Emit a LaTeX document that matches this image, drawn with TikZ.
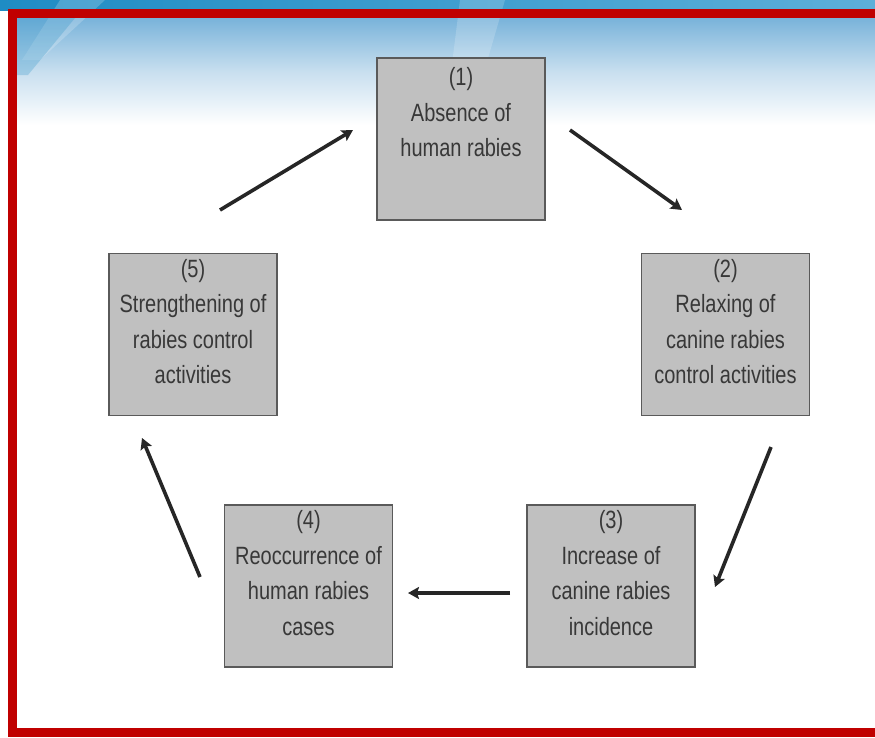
\documentclass[tikz,border=0pt]{standalone}
\usepackage{fontspec}
\setmainfont[FakeStretch=0.8]{Liberation Sans}
\usetikzlibrary{arrows.meta}
\definecolor{framered}{HTML}{C00000}
\definecolor{boxfill}{HTML}{C0C0C0}
\definecolor{boxline}{HTML}{5A5A5A}
\definecolor{txt}{HTML}{383838}
\definecolor{bandA}{HTML}{1F8CC4}
\definecolor{bandB}{HTML}{5DAFD9}
\definecolor{skyA}{HTML}{79B3DA}
\definecolor{skyM}{HTML}{C8DFEF}
\tikzset{
  stagebox/.style={draw=boxline, fill=boxfill, line width=1.6pt, minimum width=168pt, minimum height=162pt, inner sep=0pt},
  stagetext/.style={anchor=north, inner sep=0pt, align=center, text=txt, font=\fontsize{25pt}{35.5pt}\selectfont},
  cyc/.style={line width=3.6pt, black!85, -{Stealth[length=11pt,width=12pt,inset=2pt]}}
}
\begin{document}
\begin{tikzpicture}[x=1pt,y=-1pt]
\useasboundingbox (0,0) rectangle (875,737);
% background
\fill[white] (0,0) rectangle (875,737);
\shade[left color=bandA, right color=bandB] (0,0) rectangle (875,10);
\shade[top color=skyA, bottom color=white, middle color=skyM] (12,18) rectangle (875,125);
\fill[white, opacity=0.18] (460,0) -- (505,0) -- (470,120) -- (445,120) -- cycle;
\fill[white, opacity=0.2] (60,0) -- (105,0) -- (40,60) -- (22,60) -- cycle;
\fill[bandA, opacity=0.25] (12,18) -- (75,18) -- (28,75) -- (12,75) -- cycle;
% frame
\draw[framered, line width=9pt] (890,13.5) -- (12,13.5) -- (12,732.5) -- (890,732.5);
% boxes
\node[stagebox] (b1) at (461,139) {};
\node[stagebox] (b2) at (725.5,334.5) {};
\node[stagebox] (b3) at (611,586) {};
\node[stagebox] (b4) at (308.5,586) {};
\node[stagebox] (b5) at (193,334.5) {};
\node[stagetext] (t1) at ([yshift=-10pt]b1.north) {(1)\\Absence of\\human rabies};
\node[stagetext] (t2) at ([yshift=-6pt]b2.north) {(2)\\Relaxing of\\canine rabies\\control activities};
\node[stagetext] (t3) at ([yshift=-6pt]b3.north) {(3)\\Increase of\\canine rabies\\incidence};
\node[stagetext] (t4) at ([yshift=-6pt]b4.north) {(4)\\Reoccurrence of\\human rabies\\cases};
\node[stagetext] (t5) at ([yshift=-6pt]b5.north) {(5)\\Strengthening of\\rabies control\\activities};
% arrow ends
\coordinate (a1s) at (570,130); \coordinate (a1e) at (682,210);
\coordinate (a2s) at (771,447); \coordinate (a2e) at (715,587);
\coordinate (a3s) at (510,593); \coordinate (a3e) at (408,593);
\coordinate (a4s) at (200,577); \coordinate (a4e) at (142,438);
\coordinate (a5s) at (220,210); \coordinate (a5e) at (353,130);
\draw[cyc] (a1s) -- (a1e);
\draw[cyc] (a2s) -- (a2e);
\draw[cyc] (a3s) -- (a3e);
\draw[cyc] (a4s) -- (a4e);
\draw[cyc] (a5s) -- (a5e);
\end{tikzpicture}
\end{document}
